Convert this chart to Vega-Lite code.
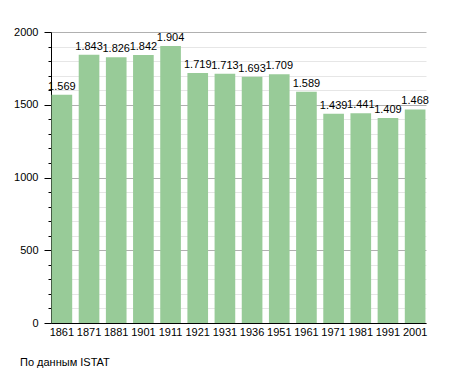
{
  "$schema": "https://vega.github.io/schema/vega-lite/v6.json",
  "autosize": "none",
  "width": 375,
  "height": 291,
  "padding": {"left": 51, "top": 32, "right": 29, "bottom": 50},
  "background": "white",
  "config": {
    "locale": {"number": {"decimal": ",", "thousands": ".", "grouping": [3], "currency": ["", ""]}},
    "font": "Liberation Sans",
    "view": {"stroke": null},
    "title": {"font": "Liberation Sans", "fontSize": 11, "fontWeight": "normal", "color": "black"}
  },
  "title": {"text": "По данным  ISTAT", "orient": "bottom", "anchor": "start", "frame": "group", "dx": -31, "offset": 20},
  "data": {"values": [
    {"year": "1861", "pop": 1569},
    {"year": "1871", "pop": 1843},
    {"year": "1881", "pop": 1826},
    {"year": "1901", "pop": 1842},
    {"year": "1911", "pop": 1904},
    {"year": "1921", "pop": 1719},
    {"year": "1931", "pop": 1713},
    {"year": "1936", "pop": 1693},
    {"year": "1951", "pop": 1709},
    {"year": "1961", "pop": 1589},
    {"year": "1971", "pop": 1439},
    {"year": "1981", "pop": 1441},
    {"year": "1991", "pop": 1409},
    {"year": "2001", "pop": 1468}
  ]},
  "encoding": {
    "x": {"field": "year", "type": "ordinal", "sort": null,
      "scale": {"paddingInner": 0.24, "paddingOuter": 0.02},
      "axis": {"title": null, "labelAngle": 0, "ticks": false, "domainColor": "black", "labelFontSize": 11, "labelColor": "black", "labelPadding": 3}},
    "y": {"field": "pop", "type": "quantitative",
      "scale": {"domain": [0, 2000], "nice": false},
      "axis": {"title": null, "values": [0,100,200,300,400,500,600,700,800,900,1000,1100,1200,1300,1400,1500,1600,1700,1800,1900,2000],
        "labelExpr": "datum.value % 500 === 0 ? datum.value : ''",
        "format": "d",
        "labelFontSize": 11, "labelColor": "black", "labelPadding": 6,
        "domainColor": "black", "tickColor": "black",
        "tickSize": {"condition": {"test": "datum.value % 500 === 0", "value": 7}, "value": 3},
        "grid": true,
        "gridColor": {"condition": {"test": "datum.value % 500 === 0", "value": "#b0b0b0"}, "value": "#e6e6e6"},
        "zindex": 0}}
  },
  "layer": [
    {"mark": {"type": "bar", "color": "#98cb98"}},
    {"mark": {"type": "text", "baseline": "bottom", "dy": -3, "fontSize": 11, "color": "black"},
      "encoding": {"text": {"field": "pop", "type": "quantitative", "format": ",d"}}}
  ]
}
